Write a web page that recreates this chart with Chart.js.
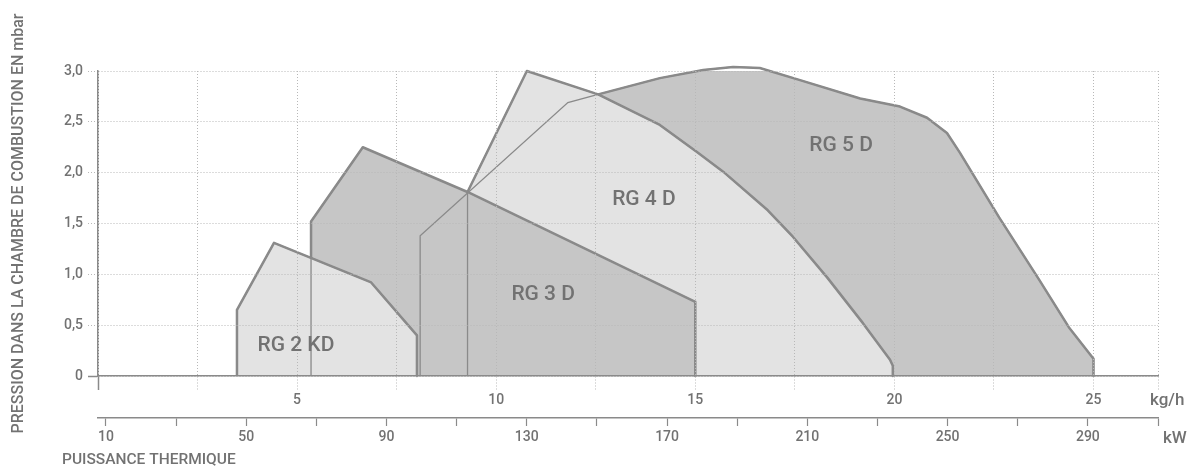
<!DOCTYPE html>
<html>
<head>
<meta charset="utf-8">
<script src="https://cdn.jsdelivr.net/npm/chart.js@4/dist/chart.umd.min.js"></script>
<style>
    html, body { margin: 0; padding: 0; background: #fff; }
    #wrap { width: 1192px; height: 468px; }
</style>
</head>
<body>
<div id="wrap"><canvas id="burnerChart"></canvas></div>
<script>
const rg2Kg   = [3.49, 3.49, 4.42, 6.86, 8.01, 8.01];
const rg2Mbar = [0, 0.65, 1.31, 0.92, 0.40, 0];

const rg3Kg   = [5.35, 5.35, 6.65, 9.28, 15.0, 15.0];
const rg3Mbar = [0, 1.52, 2.25, 1.81, 0.73, 0];

const rg4Kg   = [9.28, 9.28, 10.77, 12.56, 14.11, 15.05, 15.70, 16.82, 17.45, 18.31, 19.21, 19.89, 19.96, 19.96];
const rg4Mbar = [0, 1.81, 3.0, 2.77, 2.47, 2.20, 2.01, 1.63, 1.37, 0.97, 0.52, 0.16, 0.10, 0];

const rg5Kg   = [8.09, 8.09, 11.80, 12.56, 14.11, 15.20, 15.95, 16.62, 17.63, 19.14, 20.14, 20.82, 21.32, 21.64, 22.63, 23.63, 24.38, 25.0, 25.0];
const rg5Mbar = [0, 1.38, 2.69, 2.77, 2.93, 3.01, 3.04, 3.03, 2.91, 2.73, 2.65, 2.54, 2.39, 2.20, 1.56, 0.95, 0.48, 0.17, 0];

// noms des brûleurs et position de l'étiquette
const modelNames = ['RG 2 KD', 'RG 3 D', 'RG 4 D', 'RG 5 D'];
const labelKg    = [4.97, 11.18, 13.71, 18.66];
const labelMbar  = [0.30, 0.80, 1.73, 2.26];

// axes
const mbarTicks = [0, 0.5, 1.0, 1.5, 2.0, 2.5, 3.0];
const kgGrid    = [0, 2.5, 5, 7.5, 10, 12.5, 15, 17.5, 20, 22.5, 25, 26.62];
const kgTicks   = [5, 10, 15, 20, 25];
const kwGrid    = [10, 30, 50, 70, 90, 110, 130, 150, 170, 190, 210, 230, 250, 270, 290, 310];
const kwTicks   = [10, 50, 90, 130, 170, 210, 250, 290];

const textColor = '#727272';
const edgeColor = '#8a8a8a';
const gridColor = '#b8b8b8';
const lightFill = '#e3e3e3';
const darkFill  = '#c6c6c6';
const fontFamily = 'Roboto, "Noto Sans", sans-serif';

const toPoints = (xs, ys) => xs.map((x, i) => ({ x: x, y: ys[i] }));

/**
 * Zone pleine d'un brûleur (remplie jusqu'à 0 mbar).
 */
function area(xs, ys, fill) {
    return {
        data: toPoints(xs, ys),
        fill: 'origin',
        backgroundColor: fill,
        borderColor: edgeColor,
        borderWidth: 2.5,
        borderJoinStyle: 'round',
        pointRadius: 0,
        tension: 0,
        clip: false
    };
}

/**
 * Contour fin visible à travers les zones du dessus.
 */
function outline(xs, ys) {
    return {
        data: toPoints(xs, ys),
        fill: false,
        borderColor: edgeColor,
        borderWidth: 1.3,
        pointRadius: 0,
        tension: 0,
        clip: false
    };
}

const annotations = {
    id: 'annotations',
    afterDraw(chart) {
        const { ctx, scales: { x, y, x2 } } = chart;
        ctx.save();
        ctx.fillStyle = textColor;
        ctx.textBaseline = 'middle';

        ctx.font = '500 21px ' + fontFamily;
        ctx.textAlign = 'center';
        modelNames.forEach((name, i) => {
            ctx.fillText(name, x.getPixelForValue(labelKg[i]), y.getPixelForValue(labelMbar[i]));
        });

        ctx.font = '500 17px ' + fontFamily;
        ctx.textAlign = 'left';
        ctx.fillText('kg/h', x.right - 8, x.top + 25);
        ctx.fillText('kW', x2.right + 5, x2.top + 21);
        ctx.font = '500 15.5px ' + fontFamily;
        ctx.fillText('PUISSANCE THERMIQUE', 62, x2.top + 42);
        ctx.restore();
    }
};

const tickFont = { family: fontFamily, size: 14, weight: '500' };

new Chart(document.getElementById('burnerChart'), {
    type: 'line',
    data: {
        datasets: [
            outline(rg2Kg, rg2Mbar),
            outline(rg3Kg, rg3Mbar),
            outline(rg4Kg, rg4Mbar),
            outline(rg5Kg, rg5Mbar),
            area(rg2Kg, rg2Mbar, lightFill),
            area(rg3Kg, rg3Mbar, darkFill),
            area(rg4Kg, rg4Mbar, lightFill),
            area(rg5Kg, rg5Mbar, darkFill)
        ]
    },
    options: {
        responsive: true,
        maintainAspectRatio: false,
        animation: false,
        devicePixelRatio: 1,
        layout: { padding: { left: 0, right: 34, top: 71, bottom: 0 } },
        plugins: {
            legend: { display: false },
            tooltip: { enabled: false }
        },
        scales: {
            x: {
                type: 'linear',
                position: 'bottom',
                min: 0,
                max: 26.62,
                afterBuildTicks: (s) => { s.ticks = kgGrid.map(v => ({ value: v })); },
                afterFit: (s) => { s.height = 42; },
                grid: {
                    z: 1,
                    color: (c) => (c.tick && c.tick.value === 0 ? edgeColor : gridColor),
                    tickLength: 14,
                    tickColor: (c) => (c.tick && c.tick.value === 0 ? edgeColor : gridColor),
                    tickWidth: (c) => (c.tick && c.tick.value === 0 ? 1.5 : 1),
                    tickBorderDash: (c) => (c.tick && c.tick.value === 0 ? [] : [1, 2])
                },
                border: { z: 2, color: edgeColor, width: 1.5, dash: [1, 2] },
                ticks: {
                    autoSkip: false,
                    maxRotation: 0,
                    padding: 2,
                    color: textColor,
                    font: tickFont,
                    callback: (v) => (kgTicks.includes(v) ? String(v) : '')
                }
            },
            x2: {
                type: 'linear',
                position: 'bottom',
                min: 7.72,
                max: 310,
                afterBuildTicks: (s) => { s.ticks = kwGrid.map(v => ({ value: v })); },
                afterFit: (s) => { s.height = 50; },
                grid: {
                    z: 1,
                    drawOnChartArea: false,
                    tickLength: 8,
                    tickColor: edgeColor,
                    tickWidth: 1.2
                },
                border: { z: 2, color: edgeColor, width: 1.5 },
                ticks: {
                    autoSkip: false,
                    maxRotation: 0,
                    padding: 3,
                    color: textColor,
                    font: tickFont,
                    callback: (v) => (kwTicks.includes(v) ? String(v) : '')
                }
            },
            y: {
                min: 0,
                max: 3,
                afterBuildTicks: (s) => { s.ticks = mbarTicks.map(v => ({ value: v })); },
                afterFit: (s) => { s.width = 98; },
                grid: {
                    z: 1,
                    color: gridColor,
                    tickLength: 10,
                    tickColor: (c) => (c.tick && c.tick.value === 0 ? edgeColor : gridColor),
                    tickWidth: (c) => (c.tick && c.tick.value === 0 ? 1.5 : 1),
                    tickBorderDash: (c) => (c.tick && c.tick.value === 0 ? [] : [1, 2])
                },
                border: { z: 2, color: edgeColor, width: 1.5, dash: [1, 2] },
                ticks: {
                    padding: 5,
                    color: textColor,
                    font: tickFont,
                    callback: (v) => (v === 0 ? '0' : v.toFixed(1).replace('.', ','))
                },
                title: {
                    display: true,
                    text: 'PRESSION DANS LA CHAMBRE DE COMBUSTION EN mbar',
                    color: textColor,
                    font: { family: fontFamily, size: 16, weight: '500' },
                    padding: { top: 9, bottom: 0 }
                }
            }
        }
    },
    plugins: [annotations]
});
</script>
</body>
</html>
